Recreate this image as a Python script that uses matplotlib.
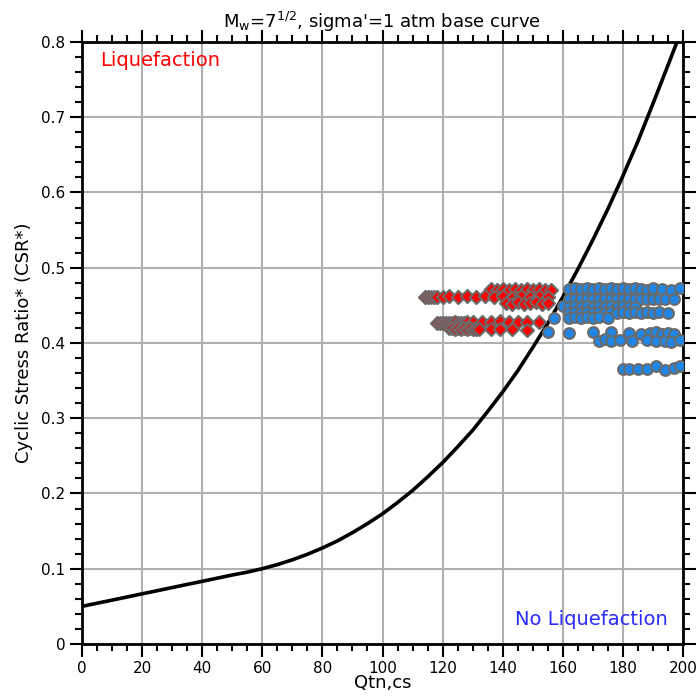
import matplotlib
matplotlib.use("Agg")
import matplotlib.pyplot as plt
from matplotlib.ticker import MultipleLocator

plt.rcParams['font.family'] = ['DejaVu Sans']

# Base curve (CRR)
curve_q = [0, 5, 10, 15, 20, 25, 30, 35, 40, 45, 50, 55, 60, 65, 70, 75, 80, 85, 90, 95,
           100, 105, 110, 115, 120, 125, 130, 135, 140, 145, 150, 155, 160, 165, 170,
           175, 180, 185, 190, 195, 198]
curve_csr = [0.050, 0.0542, 0.0583, 0.0625, 0.0667, 0.0708, 0.0750, 0.0792, 0.0833, 0.0875,
             0.0917, 0.0955, 0.1001, 0.1055, 0.1119, 0.1192, 0.1276, 0.137, 0.148, 0.160,
             0.173, 0.188, 0.204, 0.222, 0.241, 0.262, 0.284, 0.309, 0.335, 0.363, 0.394,
             0.426, 0.461, 0.498, 0.537, 0.578, 0.622, 0.668, 0.718, 0.769, 0.800]

# Liquefaction points (red diamonds)
liq_q = [136, 138, 140, 142, 144, 146, 148, 150, 152, 154, 156,
         114, 115, 116, 117, 118, 120, 122, 125, 128, 131, 134, 137, 140, 143, 146, 149, 152, 155,
         141, 143, 145, 147, 149, 151, 153, 155,
         118, 119, 120, 121, 122, 123, 124, 125, 126, 127, 128, 130, 133, 136, 139, 142, 145, 148, 152,
         122, 123, 124, 125, 126, 127, 128, 129, 130, 131, 132, 136, 139, 143, 148]
liq_csr = [0.472, 0.471, 0.472, 0.470, 0.472, 0.471, 0.472, 0.470, 0.472, 0.471, 0.470,
           0.461, 0.461, 0.461, 0.461, 0.461, 0.461, 0.462, 0.461, 0.462, 0.461, 0.463, 0.461,
           0.462, 0.460, 0.462, 0.461, 0.462, 0.461,
           0.453, 0.452, 0.454, 0.452, 0.453, 0.454, 0.452, 0.453,
           0.426, 0.427, 0.426, 0.427, 0.427, 0.426, 0.428, 0.427, 0.426, 0.427, 0.428, 0.428,
           0.428, 0.428, 0.429, 0.428, 0.428, 0.428, 0.428,
           0.420, 0.420, 0.419, 0.420, 0.419, 0.420, 0.419, 0.420, 0.419, 0.419, 0.418,
           0.418, 0.418, 0.418, 0.417]

# No liquefaction points (blue circles)
noliq_q = [162, 164, 166, 168, 170, 172, 174, 176, 178, 180, 182, 184, 186, 188, 190, 193, 196, 199,
           162, 164, 166, 168, 170, 172, 174, 176, 178, 180, 182, 184, 186, 188, 190, 192, 194, 197,
           160, 162, 164, 166, 168, 170, 172, 174, 176, 178, 180, 182, 184,
           162, 164, 166, 168, 170, 172, 174, 176, 178, 180, 182, 184, 186, 188, 190, 192, 195,
           157, 162, 164, 166, 168, 170, 172, 175,
           155, 162, 170, 176, 182, 186, 189, 191, 193, 195, 197,
           172, 174, 176, 179, 183, 188, 191, 194, 196, 199,
           180, 182, 185, 188, 191, 194, 197, 199]
noliq_csr = [0.472, 0.473, 0.472, 0.473, 0.472, 0.473, 0.472, 0.473, 0.472, 0.473, 0.472,
             0.473, 0.472, 0.471, 0.473, 0.472, 0.471, 0.473,
             0.458, 0.459, 0.458, 0.459, 0.458, 0.459, 0.458, 0.459, 0.458, 0.459, 0.458,
             0.459, 0.458, 0.459, 0.458, 0.459, 0.458, 0.458,
             0.449, 0.448, 0.449, 0.448, 0.449, 0.448, 0.449, 0.448, 0.449, 0.448, 0.449,
             0.448, 0.448,
             0.440, 0.441, 0.440, 0.441, 0.440, 0.441, 0.440, 0.441, 0.440, 0.441, 0.440,
             0.441, 0.440, 0.441, 0.440, 0.441, 0.440,
             0.433, 0.433, 0.434, 0.433, 0.434, 0.433, 0.434, 0.433,
             0.414, 0.413, 0.414, 0.414, 0.413, 0.412, 0.413, 0.414, 0.412, 0.413, 0.412,
             0.403, 0.405, 0.402, 0.404, 0.403, 0.404, 0.402, 0.403, 0.401, 0.404,
             0.366, 0.366, 0.366, 0.366, 0.369, 0.364, 0.367, 0.370]

fig = plt.figure(figsize=(6.98, 6.96), dpi=100)
ax = fig.add_axes([0.1175, 0.0747, 0.861, 0.865])

ax.plot(curve_q, curve_csr, color='black', lw=2.6, zorder=3)
ax.scatter(noliq_q, noliq_csr, marker='o', s=60, facecolor='#1f86e6',
           edgecolor='#6a6a6a', linewidth=1.5, zorder=4)
ax.scatter(liq_q, liq_csr, marker='D', s=45, facecolor='red',
           edgecolor='#6a6a6a', linewidth=1.5, zorder=5)

ax.set_xlim(0, 200)
ax.set_ylim(0, 0.8)
ax.xaxis.set_major_locator(MultipleLocator(20))
ax.xaxis.set_minor_locator(MultipleLocator(5))
ax.yaxis.set_major_locator(MultipleLocator(0.1))
ax.yaxis.set_minor_locator(MultipleLocator(0.02))
ax.yaxis.set_major_formatter(plt.FuncFormatter(lambda v, p: '0' if v == 0 else f'{v:.1f}'))

ax.grid(True, which='major', color='#b0b0b0', lw=1.5)
ax.set_axisbelow(True)
ax.tick_params(which='both', direction='out', top=True, right=True, width=1.5,
               labelsize=11, pad=3)
ax.tick_params(which='major', length=9)
ax.tick_params(which='minor', length=5)
for s in ax.spines.values():
    s.set_linewidth(2)

ax.set_xlabel('Qtn,cs', fontsize=13, labelpad=-1)
ax.set_ylabel('Cyclic Stress Ratio* (CSR*)', fontsize=13, labelpad=6)
ax.set_title(r"M$_\mathregular{w}$=7$^\mathregular{1/2}$, sigma'=1 atm base curve",
             fontsize=13, pad=10)

ax.text(6, 0.775, 'Liquefaction', color='red', fontsize=14, va='center')
ax.text(195, 0.033, 'No Liquefaction', color='#2a2aff', fontsize=14, va='center', ha='right')

fig.savefig('out.png', dpi=100)
